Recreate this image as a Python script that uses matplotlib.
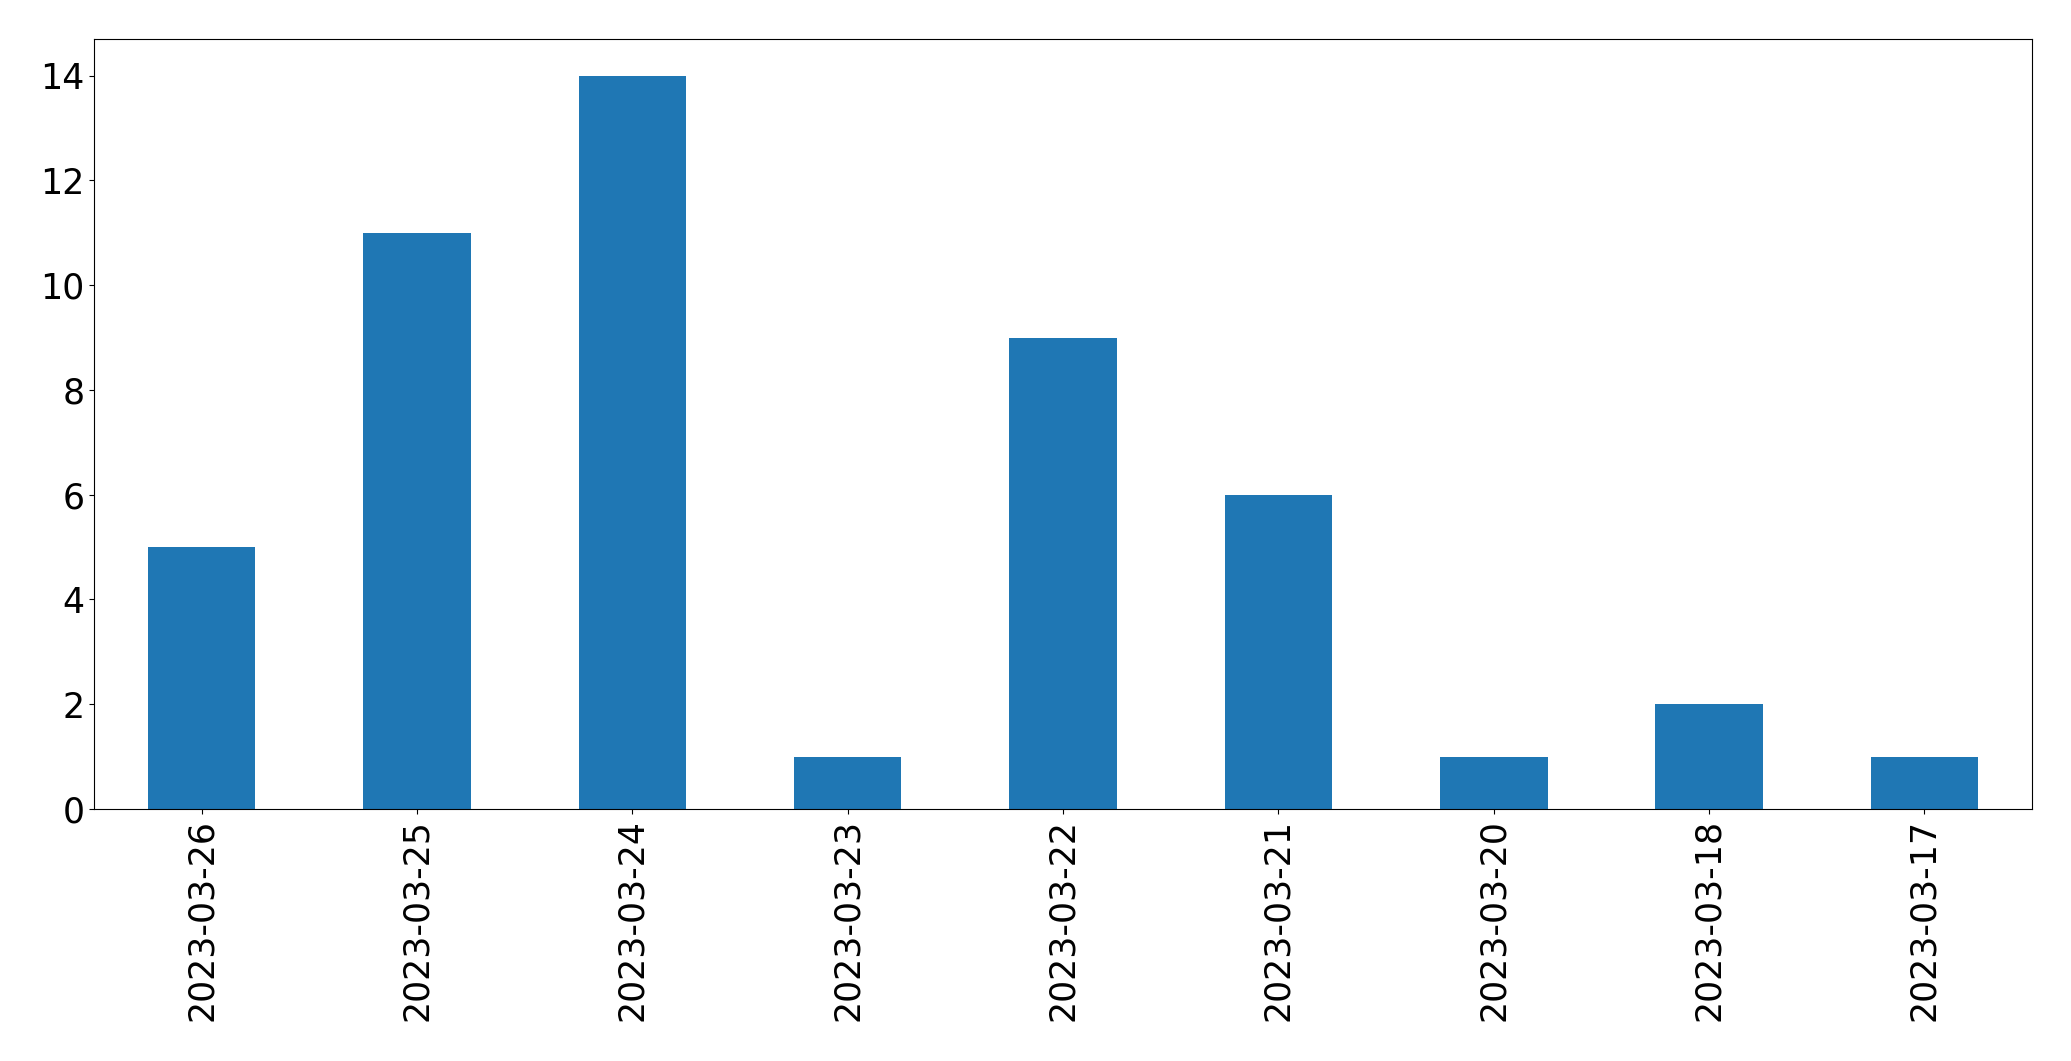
import matplotlib
matplotlib.use("Agg")
import matplotlib.pyplot as plt
import pandas as pd

dates = ['2023-03-26', '2023-03-25', '2023-03-24', '2023-03-23', '2023-03-22',
		 '2023-03-21', '2023-03-20', '2023-03-18', '2023-03-17']
counts = [5, 11, 14, 1, 9, 6, 1, 2, 1]

fig = plt.figure(figsize=(20.71, 10.61), dpi=100)
ax = fig.add_axes([94 / 2071, 1 - 809 / 1061, 1938 / 2071, 770 / 1061])

s = pd.Series(counts, index=dates)
s.plot(kind='bar', ax=ax, color='#1f77b4')

ax.tick_params(axis='both', labelsize=25)
ax.set_xlabel('')

fig.savefig('out.png', dpi=100)
